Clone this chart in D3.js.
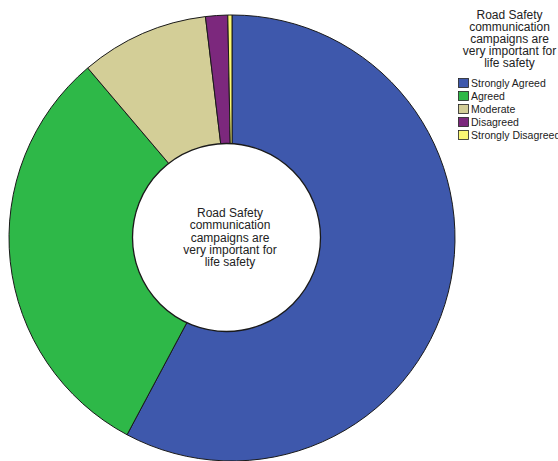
<!DOCTYPE html>
<html>
<head>
<meta charset="utf-8">
<script src="https://cdn.jsdelivr.net/npm/d3@7"></script>
<style>
  html, body { margin: 0; padding: 0; background: #fff; }
  svg { display: block; font-family: "Liberation Sans", Arial, sans-serif; }
</style>
</head>
<body>
<svg id="chart" width="558" height="461"></svg>
<script>
// Response categories and their share of respondents (%)
const categories = ["Strongly Agreed", "Agreed", "Moderate", "Disagreed", "Strongly Disagreed"];
const percents = [57.8, 31.0, 9.3, 1.6, 0.3];
const colors = ["#3e58ac", "#2eb848", "#d3ce97", "#7c287d", "#fbf873"];
const titleLines = ["Road Safety", "communication", "campaigns are", "very important for", "life safety"];

const svg = d3.select("#chart");

// Ring geometry
const cx = 232, cy = 238, outerR = 223;
const hole = { x: 226.5, y: 237.5, r: 94 };

const data = categories.map((c, i) => ({ category: c, value: percents[i] }));
const color = d3.scaleOrdinal().domain(categories).range(colors);

const pie = d3.pie().sort(null).value(d => d.value);
const arc = d3.arc().innerRadius(0).outerRadius(outerR);

const g = svg.append("g").attr("transform", `translate(${cx},${cy})`);
g.selectAll("path.slice")
  .data(pie(data))
  .join("path")
  .attr("class", "slice")
  .attr("d", arc)
  .attr("fill", d => color(d.data.category))
  .attr("stroke", "#1a1a1a")
  .attr("stroke-width", 1)
  .attr("stroke-linejoin", "round");

// Centre hole
svg.append("circle")
  .attr("cx", hole.x)
  .attr("cy", hole.y)
  .attr("r", hole.r)
  .attr("fill", "#fff")
  .attr("stroke", "#1a1a1a")
  .attr("stroke-width", 1.3);

// Centre caption
const centerText = svg.append("text")
  .attr("text-anchor", "middle")
  .attr("font-size", 12)
  .attr("fill", "#222");
titleLines.forEach((t, i) => {
  centerText.append("tspan")
    .attr("x", 230)
    .attr("y", 217 + i * 12.3)
    .text(t);
});

// Legend
const legendTitle = svg.append("text")
  .attr("text-anchor", "middle")
  .attr("font-size", 12)
  .attr("fill", "#222");
titleLines.forEach((t, i) => {
  legendTitle.append("tspan")
    .attr("x", 509.5)
    .attr("y", 19 + i * 12)
    .text(t);
});

const rowY = d3.scalePoint().domain(categories).range([83, 135]);
const legend = svg.append("g");
const rows = legend.selectAll("g.row")
  .data(categories)
  .join("g")
  .attr("class", "row")
  .attr("transform", d => `translate(458,${rowY(d)})`);
rows.append("rect")
  .attr("x", 0.5)
  .attr("y", -4.5)
  .attr("width", 10)
  .attr("height", 9)
  .attr("fill", d => color(d))
  .attr("stroke", "#222")
  .attr("stroke-width", 0.8);
rows.append("text")
  .attr("x", 13)
  .attr("y", 4)
  .attr("font-size", 10.5)
  .attr("fill", "#222")
  .text(d => d);
</script>
</body>
</html>
